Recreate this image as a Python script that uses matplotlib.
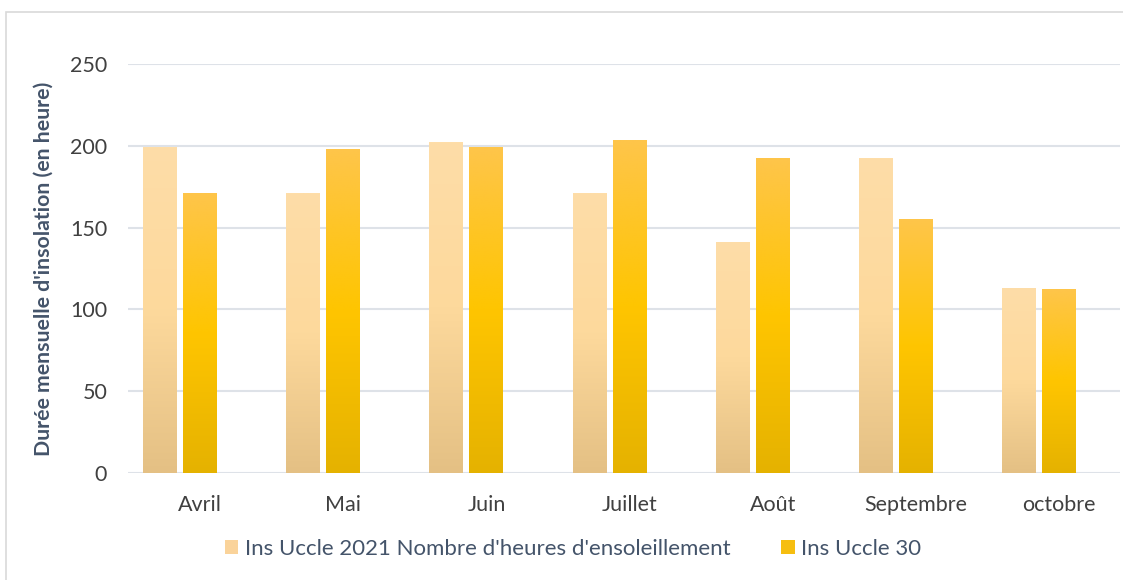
import numpy as np
import matplotlib.pyplot as plt
from matplotlib.colors import LinearSegmentedColormap
from matplotlib.patches import Rectangle, Patch

months = ["Avril", "Mai", "Juin", "Juillet", "Août", "Septembre", "octobre"]
ins_2021 = [199, 171, 202, 171, 141, 192, 113]
ins_normale = [171, 198, 199, 203, 192, 155, 112]
series_names = ["Ins Uccle 2021 Nombre d'heures d'ensoleillement", "Ins Uccle 30"]
y_ticks = [0, 50, 100, 150, 200, 250]

plt.rcParams['font.family'] = ['Lato', 'DejaVu Sans']

fig = plt.figure(figsize=(11.23, 5.80), dpi=100)
ax = fig.add_axes([128 / 1123, 107 / 580, 992 / 1123, 409 / 580])

# light frame around the chart area
fig.patches.append(Rectangle((6 / 1123, -0.05), 1.2, (580 - 12) / 580 + 0.05,
                             transform=fig.transFigure, fill=False,
                             edgecolor='#D9D9D9', linewidth=1.2, zorder=0))

cmap_2021 = LinearSegmentedColormap.from_list(
    "c2021", [(0.0, "#FEDDA8"), (0.5, "#FDD99C"), (1.0, "#E4C084")])
cmap_30 = LinearSegmentedColormap.from_list(
    "c30", [(0.0, "#FEC54A"), (0.5, "#FFC500"), (1.0, "#E5B200")])

x = np.arange(len(months))
width = 0.2305
offsets = [-0.283, -0.004]

grad = np.linspace(0, 1, 256).reshape(-1, 1)
for vals, off, cmap in [(ins_2021, offsets[0], cmap_2021),
                        (ins_normale, offsets[1], cmap_30)]:
    bars = ax.bar(x + off, vals, width=width, color='none', zorder=2)
    for b in bars:
        x0, y0 = b.get_x(), b.get_y()
        ax.imshow(grad, cmap=cmap, extent=[x0, x0 + b.get_width(), y0, y0 + b.get_height()],
                  origin='upper', aspect='auto', interpolation='bilinear', zorder=2)

ax.set_xlim(-0.503, 6.424)
ax.set_ylim(0, 250)
ax.set_yticks(y_ticks)
ax.set_xticks(x)
ax.set_xticklabels(months)
ax.yaxis.grid(True, color='#DEE2E8', linewidth=1.5, zorder=0)
ax.set_axisbelow(True)
for s in ax.spines.values():
    s.set_visible(False)
ax.tick_params(axis='both', length=0, labelsize=15.5, colors='#404040')
ax.tick_params(axis='y', pad=15)
ax.tick_params(axis='x', pad=16)
ax.set_ylabel("Durée mensuelle d'insolation (en heure)", fontsize=15.3,
              fontweight='bold', color='#44546A', labelpad=12)

handles = [Patch(facecolor='#FAD39A', edgecolor='none'),
           Patch(facecolor='#F6BE10', edgecolor='none')]
leg = fig.legend(handles, series_names, loc='center', bbox_to_anchor=(573 / 1123, 1 - 549 / 580),
                 ncol=2, frameon=False, fontsize=16, handlelength=0.6, handleheight=0.6,
                 handletextpad=0.3, columnspacing=2.3, labelcolor='#44546A')

fig.savefig("out.png", dpi=100)
